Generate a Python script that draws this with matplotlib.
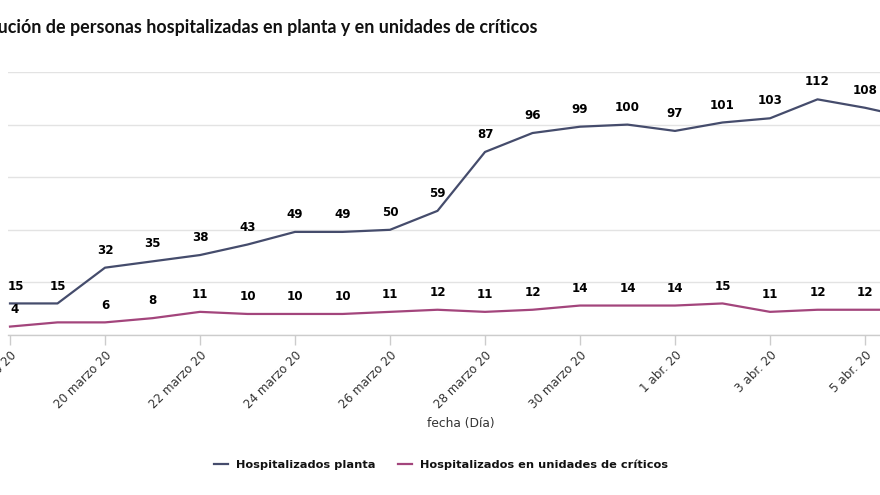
import matplotlib
matplotlib.use('Agg')
import matplotlib.pyplot as plt
import numpy as np

# -- data (18 marzo 20 .. 6 abr. 20)
dias = ['18 marzo 20', '19 marzo 20', '20 marzo 20', '21 marzo 20', '22 marzo 20',
        '23 marzo 20', '24 marzo 20', '25 marzo 20', '26 marzo 20', '27 marzo 20',
        '28 marzo 20', '29 marzo 20', '30 marzo 20', '31 marzo 20', '1 abr. 20',
        '2 abr. 20', '3 abr. 20', '4 abr. 20', '5 abr. 20', '6 abr. 20']
planta = [15, 15, 32, 35, 38, 43, 49, 49, 50, 59, 87, 96, 99, 100, 97, 101, 103, 112, 108, 103]
criticos = [4, 6, 6, 8, 11, 10, 10, 10, 11, 12, 11, 12, 14, 14, 14, 15, 11, 12, 12, 12]
oculto_criticos = [1]   # label hidden in the original (overlap)

titulo = 'Evolución de personas hospitalizadas en planta y en unidades de críticos'
c_planta = '#454c6c'
c_crit = '#a3457c'

W, H = 880, 495
fig = plt.figure(figsize=(W / 100, H / 100), dpi=100)
fig.patch.set_facecolor('white')

# -- axes: left edge at 8 px, zero line at 335 px, 125 line at 72 px
ax = fig.add_axes([8 / W, 1 - 335 / H, 872 / W, 263 / H])
x = np.arange(len(dias))
ax.plot(x, planta, color=c_planta, lw=1.6, solid_joinstyle='round')
ax.plot(x, criticos, color=c_crit, lw=1.6, solid_joinstyle='round')

ax.set_xlim(-2 / 47.5, 870 / 47.5)
ax.set_ylim(0, 125)
ax.set_yticks([0, 25, 50, 75, 100, 125])
ax.yaxis.grid(True, color='#e3e3e3', lw=1.0)
ax.set_axisbelow(True)
ax.tick_params(axis='y', left=False, labelleft=False)
for s in ['top', 'right', 'left']:
    ax.spines[s].set_visible(False)
ax.spines['bottom'].set_color('#cccccc')
ax.spines['bottom'].set_linewidth(1.0)

ticks = x[::2]
ax.set_xticks(ticks)
ax.set_xticklabels([dias[i] for i in ticks], rotation=45, ha='right',
                   rotation_mode='anchor', fontsize=8.6, color='#333333')
ax.tick_params(axis='x', length=7, width=1, color='#cccccc', pad=3)

# -- data labels
for i, v in enumerate(planta):
    dx = 4.5 if i == 0 else 0
    ax.annotate(str(v), (x[i], v), xytext=(dx, 12.5), textcoords='offset points',
                ha='center', va='center', fontsize=8.6, fontweight='bold',
                color='black', annotation_clip=False)
for i, v in enumerate(criticos):
    if i in oculto_criticos:
        continue
    dx = 3 if i == 0 else 0
    ax.annotate(str(v), (x[i], v), xytext=(dx, 12.5), textcoords='offset points',
                ha='center', va='center', fontsize=8.6, fontweight='bold',
                color='black', annotation_clip=False)

# -- title (left part falls outside the cropped picture)
fig.text(537 / W, 1 - 28 / H, titulo, ha='right', va='center', fontsize=12.9,
         fontweight='bold', family='Lato', color='#111111')

# -- axis title
fig.text(461 / W, 1 - 424 / H, 'fecha (Día)', ha='center', va='center',
         fontsize=8.8, color='#333333')

# -- legend
h1, = ax.plot([], [], color=c_planta, lw=1.6, label='Hospitalizados planta')
h2, = ax.plot([], [], color=c_crit, lw=1.6, label='Hospitalizados en unidades de críticos')
leg = fig.legend(handles=[h1, h2], loc='center', bbox_to_anchor=(441 / W, 1 - 465 / H),
                 ncol=2, frameon=False, handlelength=1.3, handletextpad=0.7,
                 columnspacing=1.9, prop={'size': 8.2, 'weight': 'bold'})
for t in leg.get_texts():
    t.set_color('#111111')

fig.savefig('out.png', dpi=100, facecolor='white')
